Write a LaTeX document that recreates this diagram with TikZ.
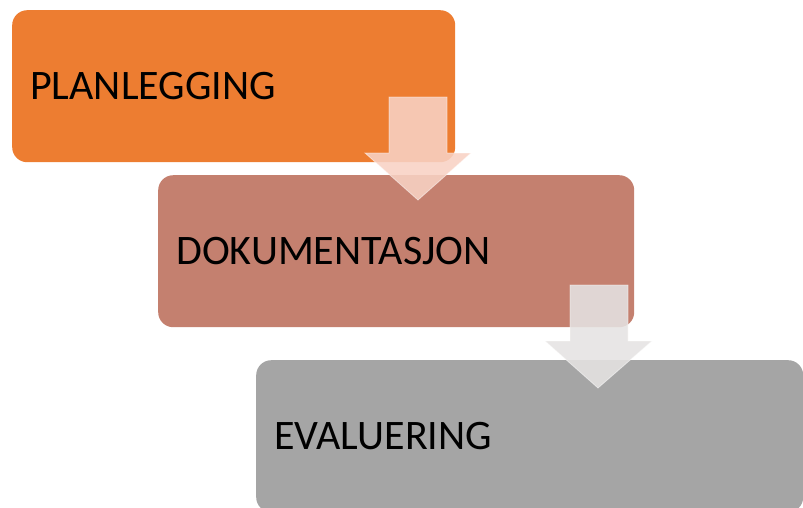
\documentclass[tikz,border=0pt]{standalone}
\usepackage{fontspec}
\setmainfont{Carlito}
\definecolor{orangeA}{HTML}{ED7D31}
\definecolor{brownB}{HTML}{C4806F}
\definecolor{grayC}{HTML}{A5A5A5}
\definecolor{arrowA}{HTML}{F8D2C4}
\definecolor{arrowB}{HTML}{E5E3E2}
\tikzset{
  stepbox/.style={draw=none, rounded corners=15pt, anchor=north west, inner xsep=18pt, inner ysep=0pt, align=left, font=\fontsize{42}{50}\selectfont, text=black},
  blockarrow/.style={draw=white, draw opacity=0.5, line width=0.8pt, fill opacity=0.88}
}
\begin{document}
\begin{tikzpicture}[x=1pt,y=-1pt]
\useasboundingbox (0,0) rectangle (803,507);
\clip (0,0) rectangle (803,507);
\node[stepbox, fill=orangeA, minimum width=443pt, minimum height=152pt, text width=407pt] (plan) at (12,10) {PLANLEGGING};
\node[stepbox, fill=brownB, minimum width=476pt, minimum height=152pt, text width=440pt] (dok) at (158,175) {DOKUMENTASJON};
\node[stepbox, fill=grayC, minimum width=547pt, minimum height=152pt, text width=511pt] (eval) at (256,360) {EVALUERING};
\fill[arrowA, blockarrow] (389,97) -- (447,97) -- (447,153) -- (471,153) -- (418,200) -- (365,153) -- (389,153) -- cycle;
\fill[arrowB, blockarrow] (570,285) -- (628,285) -- (628,341) -- (652,341) -- (598,388) -- (545,341) -- (570,341) -- cycle;
\end{tikzpicture}
\end{document}
